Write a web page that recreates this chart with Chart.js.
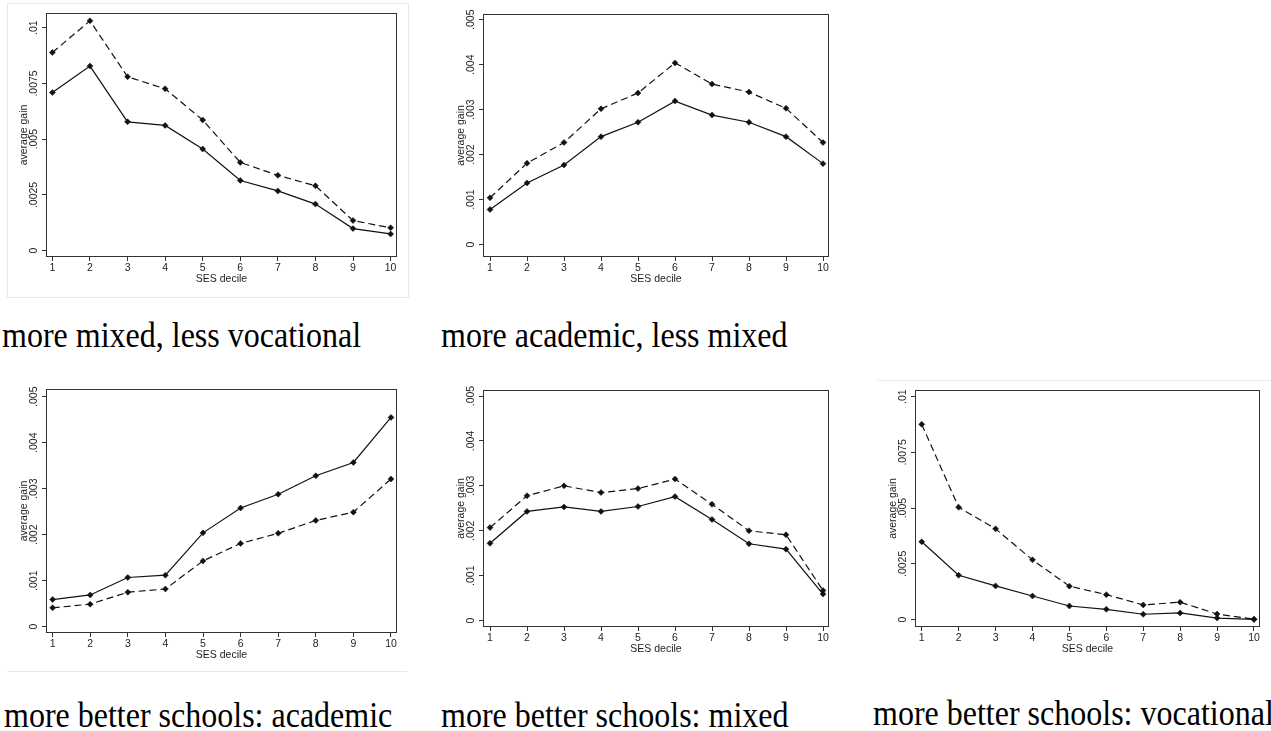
<!DOCTYPE html>
<html>
<head>
<meta charset="utf-8">
<script src="https://cdn.jsdelivr.net/npm/chart.js"></script>
<style>
  body { margin: 0; background: #fff; width: 1271px; height: 731px; overflow: hidden; position: relative; }
  canvas { position: absolute; }
  .caption {
    position: absolute;
    font-family: "Liberation Serif", "Times New Roman", serif;
    font-size: 32px;
    line-height: 1;
    white-space: nowrap;
    color: #000;
    transform: scaleY(1.14);
    transform-origin: 0 0;
  }
  .box { position: absolute; border: 0 solid #e3ebeb; }
</style>
</head>
<body>
<div class="box" style="left:7px;top:3px;width:400px;height:293px;border-width:1px"></div>
<div class="box" style="left:7px;top:380px;width:400px;height:291px;border-bottom-width:1px"></div>
<div class="box" style="left:877px;top:380px;width:394px;height:10px;border-top-width:1px"></div>

<canvas id="c1"></canvas>
<canvas id="c2"></canvas>
<canvas id="c3"></canvas>
<canvas id="c4"></canvas>
<canvas id="c5"></canvas>

<div class="caption" style="left:2px;top:316px">more mixed, less vocational</div>
<div class="caption" style="left:441px;top:316px">more academic, less mixed</div>
<div class="caption" style="left:4px;top:696px">more better schools: academic</div>
<div class="caption" style="left:441px;top:696px">more better schools: mixed</div>
<div class="caption" style="left:873px;top:694px">more better schools: vocational</div>

<script>
// SES deciles on the x axis
const deciles = [1, 2, 3, 4, 5, 6, 7, 8, 9, 10];

// y tick values / labels
const ticksWide = [0, 0.0025, 0.005, 0.0075, 0.01];
const labelsWide = ["0", ".0025", ".005", ".0075", ".01"];
const ticksNarrow = [0, 0.001, 0.002, 0.003, 0.004, 0.005];
const labelsNarrow = ["0", ".001", ".002", ".003", ".004", ".005"];

// more mixed, less vocational
const mixedVocSolid  = [0.00709, 0.00828, 0.00578, 0.00562, 0.00456, 0.00315, 0.00268, 0.00209, 0.00099, 0.00075];
const mixedVocDashed = [0.00889, 0.01031, 0.00780, 0.00726, 0.00586, 0.00396, 0.00338, 0.00291, 0.00135, 0.00103];

// more academic, less mixed
const acadMixSolid  = [0.00078, 0.00137, 0.00177, 0.00240, 0.00272, 0.00319, 0.00288, 0.00272, 0.00240, 0.00180];
const acadMixDashed = [0.00104, 0.00181, 0.00227, 0.00302, 0.00337, 0.00404, 0.00357, 0.00339, 0.00303, 0.00227];

// more better schools: academic
const betterAcadSolid  = [0.00059, 0.00069, 0.00107, 0.00112, 0.00204, 0.00258, 0.00288, 0.00328, 0.00357, 0.00455];
const betterAcadDashed = [0.00041, 0.00049, 0.00075, 0.00082, 0.00143, 0.00181, 0.00203, 0.00231, 0.00249, 0.00321];

// more better schools: mixed
const betterMixSolid  = [0.00172, 0.00243, 0.00253, 0.00243, 0.00254, 0.00276, 0.00225, 0.00171, 0.00159, 0.00059];
const betterMixDashed = [0.00207, 0.00278, 0.00300, 0.00285, 0.00294, 0.00315, 0.00259, 0.00200, 0.00191, 0.00067];

// more better schools: vocational
const betterVocSolid  = [0.00349, 0.00199, 0.00151, 0.00106, 0.00061, 0.00046, 0.00024, 0.00030, 0.00007, 0.00001];
const betterVocDashed = [0.00876, 0.00504, 0.00407, 0.00268, 0.00150, 0.00112, 0.00066, 0.00078, 0.00025, 0.00002];

const FONT = '10.5px "Liberation Sans", Arial, sans-serif';
const INK = '#1e1e1e';

// frame, rotated y labels and axis titles, stata style
const stataAxes = {
  id: 'stataAxes',
  afterDraw(chart, args, opts) {
    const ctx = chart.ctx;
    const a = chart.chartArea;
    const xs = chart.scales.x, ys = chart.scales.y;
    ctx.save();
    ctx.strokeStyle = '#333';
    ctx.lineWidth = 1;
    ctx.strokeRect(a.left + 0.5, a.top + 0.5, a.right - a.left - 1, a.bottom - a.top - 1);

    ctx.fillStyle = INK;
    ctx.font = FONT;
    ctx.textAlign = 'center';
    ctx.textBaseline = 'middle';
    deciles.forEach(d => ctx.fillText(String(d), xs.getPixelForValue(d), a.bottom + 11));
    ctx.fillText('SES decile', (a.left + a.right) / 2, a.bottom + 22);

    opts.ticks.forEach((v, i) => {
      ctx.save();
      ctx.translate(a.left - 12, ys.getPixelForValue(v));
      ctx.rotate(-Math.PI / 2);
      ctx.fillText(opts.labels[i], 0, 0);
      ctx.restore();
    });
    ctx.save();
    ctx.translate(a.left - 22, (a.top + a.bottom) / 2);
    ctx.rotate(-Math.PI / 2);
    ctx.fillText('average gain', 0, 0);
    ctx.restore();
    ctx.restore();
  }
};

function makeChart(id, frame, xr, yr, solid, dashed, yTicks, yLabels) {
  const [L, T, R, B] = frame;
  const canvas = document.getElementById(id);
  canvas.width = R - L + 60;
  canvas.height = B - T + 40;
  canvas.style.left = (L - 50) + 'px';
  canvas.style.top = (T - 10) + 'px';

  const line = (vals, dash) => ({
    data: deciles.map((d, i) => ({ x: d, y: vals[i] })),
    borderColor: '#111',
    borderWidth: 1.2,
    borderDash: dash,
    pointStyle: 'rectRot',
    pointRadius: 3,
    pointBackgroundColor: '#111',
    pointBorderColor: '#111',
    pointBorderWidth: 0.5,
    tension: 0,
    clip: false
  });

  const tickGrid = { display: true, drawOnChartArea: false, drawTicks: true, tickLength: 4, color: '#333', lineWidth: 1 };

  new Chart(canvas, {
    type: 'line',
    data: { datasets: [line(solid, []), line(dashed, [7, 4])] },
    options: {
      responsive: false,
      animation: false,
      devicePixelRatio: 1,
      layout: { padding: { left: 0, top: 10, right: 10, bottom: 0 } },
      plugins: {
        legend: { display: false },
        tooltip: { enabled: false },
        stataAxes: { ticks: yTicks, labels: yLabels }
      },
      scales: {
        x: {
          type: 'linear',
          min: xr[0], max: xr[1],
          afterBuildTicks: s => { s.ticks = deciles.map(v => ({ value: v })); },
          afterFit: s => { s.height = 30; },
          ticks: { display: false },
          grid: tickGrid,
          border: { display: false }
        },
        y: {
          type: 'linear',
          min: yr[0], max: yr[1],
          afterBuildTicks: s => { s.ticks = yTicks.map(v => ({ value: v })); },
          afterFit: s => { s.width = 50; },
          ticks: { display: false },
          grid: tickGrid,
          border: { display: false }
        }
      }
    },
    plugins: [stataAxes]
  });
}

makeChart('c1', [46, 13, 397, 257], [0.83, 10.17], [-0.000283, 0.01066], mixedVocSolid, mixedVocDashed, ticksWide, labelsWide);
makeChart('c2', [483, 14, 829, 257], [0.81, 10.162], [-0.000276, 0.005127], acadMixSolid, acadMixDashed, ticksNarrow, labelsNarrow);
makeChart('c3', [46, 389, 397, 633], [0.824, 10.16], [-0.000137, 0.005167], betterAcadSolid, betterAcadDashed, ticksNarrow, labelsNarrow);
makeChart('c4', [483, 390, 829, 627], [0.81, 10.162], [-0.000143, 0.005134], betterMixSolid, betterMixDashed, ticksNarrow, labelsNarrow);
makeChart('c5', [915, 390, 1260, 627], [0.818, 10.163], [-0.000332, 0.0103], betterVocSolid, betterVocDashed, ticksWide, labelsWide);
</script>
</body>
</html>
